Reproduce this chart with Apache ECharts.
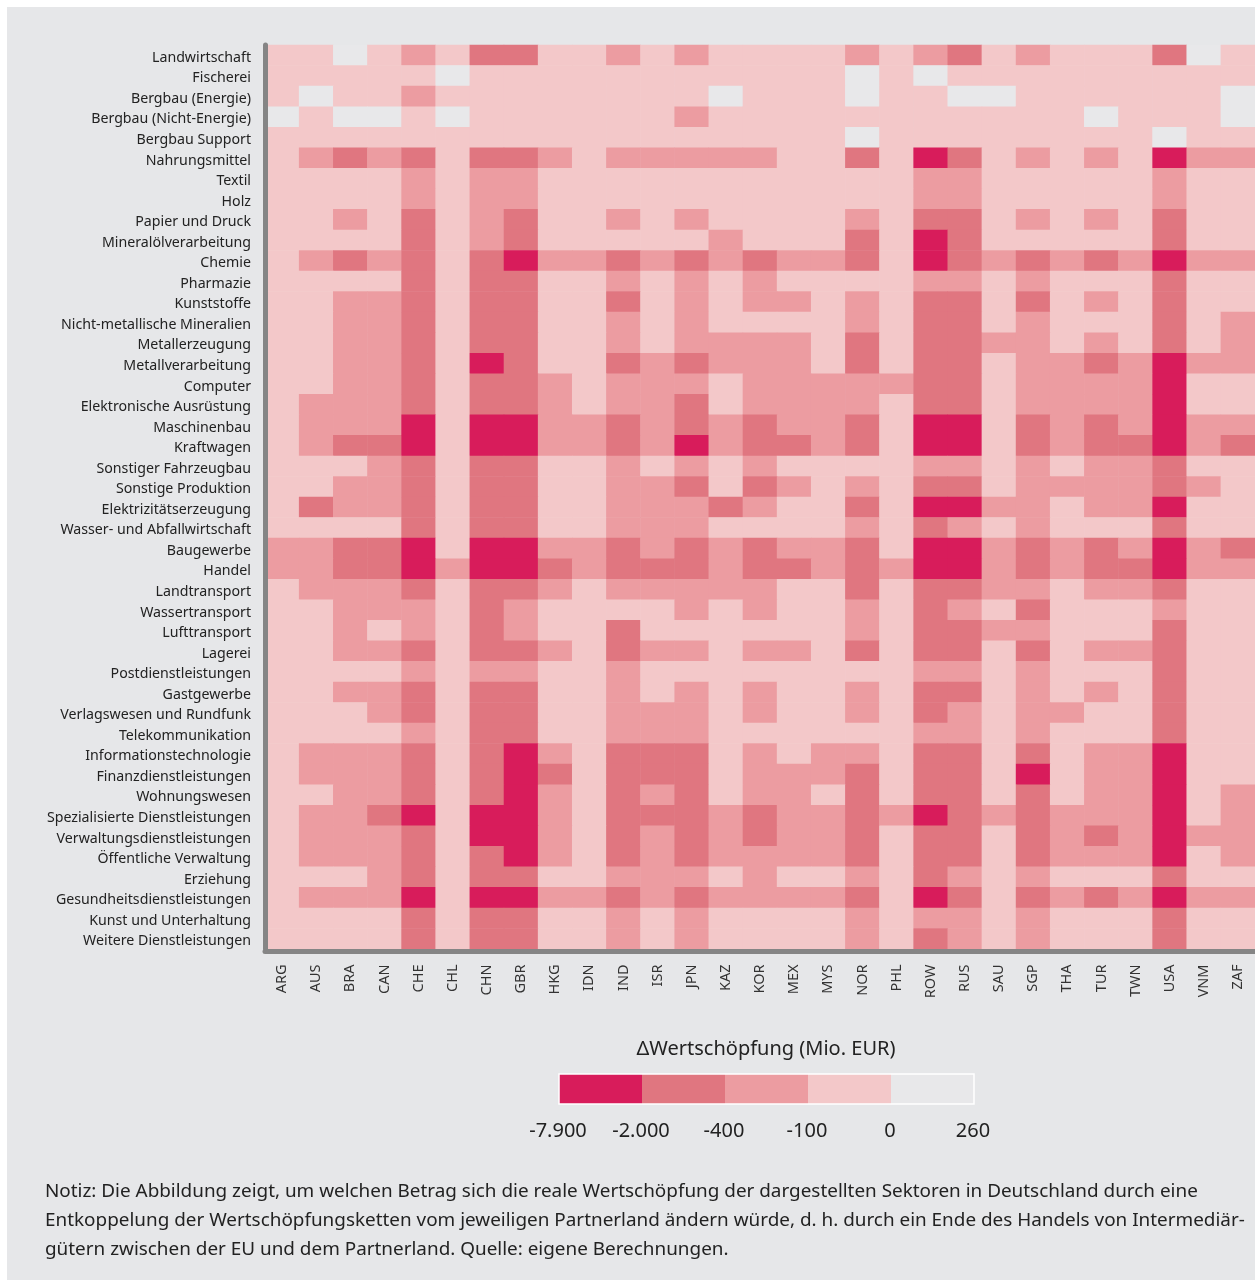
<!DOCTYPE html>
<html>
<head>
<meta charset="utf-8">
<script src="https://cdn.jsdelivr.net/npm/echarts@6/dist/echarts.min.js"></script>
<style>
  html, body { margin: 0; padding: 0; background: #ffffff; }
  #panel { position: absolute; left: 7px; top: 7px; width: 1248px; height: 1273px; background: #e6e7e9; }
  #chart { position: absolute; left: 0; top: 0; width: 1255px; height: 1286px; }
</style>
</head>
<body>
<div id="panel"></div>
<div id="chart"></div>
<script>
// Sektoren (Zeilen, von oben nach unten)
const sectors = [
  'Landwirtschaft', 'Fischerei', 'Bergbau (Energie)', 'Bergbau (Nicht-Energie)', 'Bergbau Support',
  'Nahrungsmittel', 'Textil', 'Holz', 'Papier und Druck', 'Mineralölverarbeitung', 'Chemie',
  'Pharmazie', 'Kunststoffe', 'Nicht-metallische Mineralien', 'Metallerzeugung', 'Metallverarbeitung',
  'Computer', 'Elektronische Ausrüstung', 'Maschinenbau', 'Kraftwagen', 'Sonstiger Fahrzeugbau',
  'Sonstige Produktion', 'Elektrizitätserzeugung', 'Wasser- und Abfallwirtschaft', 'Baugewerbe',
  'Handel', 'Landtransport', 'Wassertransport', 'Lufttransport', 'Lagerei', 'Postdienstleistungen',
  'Gastgewerbe', 'Verlagswesen und Rundfunk', 'Telekommunikation', 'Informationstechnologie',
  'Finanzdienstleistungen', 'Wohnungswesen', 'Spezialisierte Dienstleistungen',
  'Verwaltungsdienstleistungen', 'Öffentliche Verwaltung', 'Erziehung',
  'Gesundheitsdienstleistungen', 'Kunst und Unterhaltung', 'Weitere Dienstleistungen'
];

// Partnerländer (Spalten)
const countries = [
  'ARG', 'AUS', 'BRA', 'CAN', 'CHE', 'CHL', 'CHN', 'GBR', 'HKG', 'IDN', 'IND', 'ISR', 'JPN', 'KAZ', 'KOR',
  'MEX', 'MYS', 'NOR', 'PHL', 'ROW', 'RUS', 'SAU', 'SGP', 'THA', 'TUR', 'TWN', 'USA', 'VNM', 'ZAF'
];

// Klassen je Zelle (eine Ziffer pro Land):
// 0 = 0..260, 1 = -100..0, 2 = -400..-100, 3 = -2.000..-400, 4 = -7.900..-2.000
const classRows = [
  '110121331121211' + '11212312111301',
  '111110111111111' + '11010111111111',
  '101121111111101' + '11011001111110',
  '010010111111211' + '11111111101110',
  '111111111111111' + '11011111111011',
  '123231332122222' + '11314312121422',
  '111121221111111' + '11112211111211',
  '111121221111111' + '11112211111211',
  '112131231121211' + '11213312121311',
  '111131231111121' + '11314311111311',
  '123231342232323' + '22314323232422',
  '111131331121212' + '11112212111311',
  '112231331131212' + '21213313121311',
  '112231331121211' + '11213312111312',
  '112231331121222' + '21313322121312',
  '112231431132322' + '21313312232422',
  '112231332122212' + '22223312222411',
  '122231332122312' + '22213312222411',
  '122241442232323' + '22314413232422',
  '123341442232423' + '32314413233423',
  '111231331121212' + '11112212122311',
  '112231331122313' + '21213312222321',
  '132231331122232' + '11314422122411',
  '111131331122211' + '11213212111311',
  '223341442232323' + '22314423232423',
  '223342443233323' + '32324423233422',
  '122231332122222' + '11313322122311',
  '112221321111212' + '11213213111211',
  '112121321131111' + '11213322111311',
  '112231332132212' + '21313313122311',
  '111121221121111' + '11112212111311',
  '112231331121212' + '11213312121311',
  '111231331122212' + '11213212211311',
  '111121331122211' + '11112212111311',
  '122231342133312' + '12213313122411',
  '122231343133312' + '22313314122411',
  '112231342132312' + '21313313122412',
  '122341442133323' + '22324323222412',
  '122231442132323' + '22313313232422',
  '122231342132322' + '22313313222412',
  '111231331122212' + '11213212111311',
  '122241442232322' + '22314313232422',
  '111131331121211' + '11212212111311',
  '111131331121211' + '11213212111311'
];

// Legendengrenzen (Mio. EUR)
const legendBreaks = ['-7.900', '-2.000', '-400', '-100', '0', '260'];

const classColors = ['#e8e8ea', '#f3c8c9', '#ec9ca1', '#e07680', '#d81c5b'];

const noteLines = [
  'Notiz: Die Abbildung zeigt, um welchen Betrag sich die reale Wertschöpfung der dargestellten Sektoren in Deutschland durch eine',
  'Entkoppelung der Wertschöpfungsketten vom jeweiligen Partnerland ändern würde, d. h. durch ein Ende des Handels von Intermediär-',
  'gütern zwischen der EU und dem Partnerland. Quelle: eigene Berechnungen.'
];

const data = [];
classRows.forEach((row, y) => {
  for (let x = 0; x < countries.length; x++) {
    data.push([x, y, Number(row[x])]);
  }
});

const FONT = '"Noto Sans", sans-serif';
const chart = echarts.init(document.getElementById('chart'), null, { renderer: 'canvas' });

// Legende: Farbfelder von dunkel nach hell
const legendX = 559, legendY = 1074, legendW = 83, legendH = 30;
const legendOrder = [4, 3, 2, 1, 0];
const graphics = [];
legendOrder.forEach((cls, i) => {
  graphics.push({
    type: 'rect',
    shape: { x: legendX + i * legendW, y: legendY, width: legendW, height: legendH },
    style: { fill: classColors[cls] }
  });
});
graphics.push({
  type: 'rect',
  shape: { x: legendX, y: legendY, width: legendW * 5, height: legendH },
  style: { fill: 'none', stroke: '#ffffff', lineWidth: 1.5 }
});
legendBreaks.forEach((label, i) => {
  graphics.push({
    type: 'text',
    x: legendX + i * legendW - 1,
    y: 1131,
    style: {
      text: label, fill: '#222', font: '20px ' + FONT,
      textAlign: 'center', textVerticalAlign: 'middle'
    }
  });
});
graphics.push({
  type: 'text',
  x: 766,
  y: 1049,
  style: {
    text: 'ΔWertschöpfung (Mio. EUR)', fill: '#222', font: '20px ' + FONT,
    textAlign: 'center', textVerticalAlign: 'middle'
  }
});
noteLines.forEach((line, i) => {
  graphics.push({
    type: 'text',
    x: 45,
    y: 1192 + i * 29,
    style: {
      text: line, fill: '#222', font: '18.9px ' + FONT,
      textAlign: 'left', textVerticalAlign: 'middle'
    }
  });
});

const option = {
  animation: false,
  backgroundColor: 'transparent',
  textStyle: { fontFamily: FONT },
  grid: { left: 265, top: 45, width: 990, height: 904 },
  xAxis: {
    type: 'category',
    data: countries,
    position: 'bottom',
    offset: 2.5,
    z: 10,
    axisLine: { lineStyle: { color: '#858585', width: 5 } },
    axisTick: { show: false },
    splitLine: { show: false },
    axisLabel: { rotate: 90, fontSize: 14.5, color: '#333', margin: 13, interval: 0, fontFamily: FONT }
  },
  yAxis: {
    type: 'category',
    data: sectors,
    inverse: true,
    z: 10,
    axisLine: { lineStyle: { color: '#858585', width: 5 } },
    axisTick: { show: false },
    splitLine: { show: false },
    axisLabel: {
      color: '#222', margin: 14, interval: 0,
      formatter: v => '{s|' + v + '}',
      rich: { s: { fontSize: 14.2, color: '#222', fontFamily: FONT, padding: [5, 0, 0, 0] } }
    }
  },
  visualMap: {
    type: 'piecewise',
    show: false,
    dimension: 2,
    pieces: classColors.map((c, i) => ({ value: i, color: c }))
  },
  series: [{
    type: 'heatmap',
    data: data,
    itemStyle: { borderWidth: 0 },
    emphasis: { disabled: true },
    progressive: 0
  }],
  graphic: graphics
};

chart.setOption(option);
</script>
</body>
</html>
